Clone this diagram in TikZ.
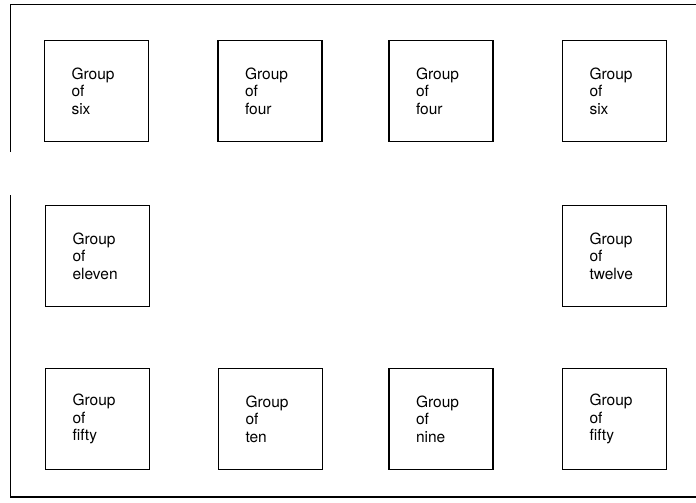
\documentclass[tikz,border=0pt]{standalone}
\usepackage{fontspec}
\setmainfont{TeX Gyre Heros}
\usepackage{tikz}
\usetikzlibrary{positioning}

\begin{document}
\begin{tikzpicture}[x=1pt,y=-1pt,
    group/.style={draw,line width=1.3pt,minimum width=104pt,minimum height=101pt,
      text width=50pt,align=left,inner sep=0pt,font=\fontsize{15.5}{17.5}\selectfont}]
    \useasboundingbox (0,0) rectangle (696,503);

    % outer frame, left side broken
    \draw[line width=1.8pt] (10.5,152) -- (10.5,4.5) -- (696,4.5);
    \draw[line width=1.8pt] (10.5,195) -- (10.5,497) -- (696,497);

    \node[group] (n1) at (96.5,91) {Group\\of\\six};
    \node[group] (n2) at (270,91) {Group\\of\\four};
    \node[group] (n3) at (441,91) {Group\\of\\four};
    \node[group] (n4) at (614.5,91) {Group\\of\\six};

    \node[group] (n5) at (97.5,256) {Group\\of\\eleven};
    \node[group] (n6) at (614.5,256) {Group\\of\\twelve};

    \node[group] (n7) at (97.5,419) {Group\\of\\fifty};
    \node[group] (n8) at (270.5,419) {Group\\of\\ten};
    \node[group] (n9) at (441,419) {Group\\of\\nine};
    \node[group] (n10) at (614.5,419) {Group\\of\\fifty};

\end{tikzpicture}
\end{document}
